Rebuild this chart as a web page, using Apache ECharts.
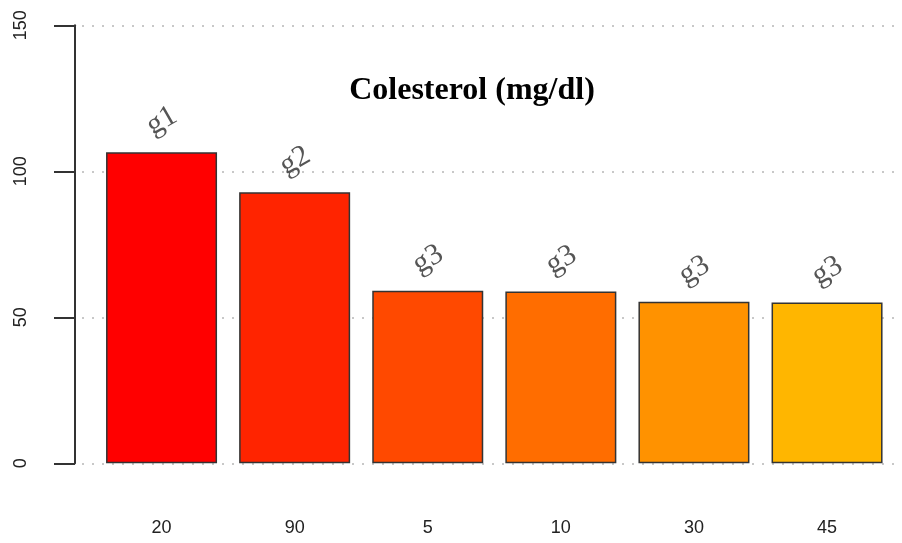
<!DOCTYPE html>
<html>
<head>
<meta charset="utf-8">
<script src="https://cdn.jsdelivr.net/npm/echarts@6/dist/echarts.min.js"></script>
<style>html,body{margin:0;padding:0;background:#fff}#c{width:902px;height:543px}</style>
</head>
<body>
<div id="c"></div>
<script>
const categories = ['20', '90', '5', '10', '30', '45'];
const values = [106.5, 92.8, 59.1, 58.8, 55.3, 55.1];
const groupLabels = ['g1', 'g2', 'g3', 'g3', 'g3', 'g3'];
const barColors = ['#FF0000', '#FF2400', '#FF4900', '#FF6D00', '#FF9200', '#FFB600'];
const yTicks = [0, 50, 100, 150];
const titleText = 'Colesterol (mg/dl)';

const chart = echarts.init(document.getElementById('c'), null, {renderer: 'canvas'});
chart.setOption({
  animation: false,
  backgroundColor: '#fff',
  title: {
    text: titleText,
    left: 467, top: 70, textAlign: 'center',
    textStyle: {fontFamily: 'Liberation Serif', fontWeight: 'bold', fontSize: 32, color: '#000'}
  },
  grid: [
    {left: 95, right: 8.4, top: 25.3, bottom: 79.7},
    {left: 82, right: 0, top: 25.3, bottom: 79.7}
  ],
  xAxis: [
    {
      type: 'category', gridIndex: 0, data: categories,
      axisLine: {show: false}, axisTick: {show: false},
      axisLabel: {margin: 56, fontFamily: 'Liberation Sans', fontSize: 18, color: '#222'}
    },
    {type: 'category', gridIndex: 1, data: [''], show: false}
  ],
  yAxis: [
    {
      type: 'value', gridIndex: 0, min: 0, max: 150, interval: 50, offset: 20,
      axisLine: {show: true, lineStyle: {color: '#333', width: 2}},
      axisTick: {show: true, length: 21, lineStyle: {color: '#333', width: 2}},
      axisLabel: {rotate: 90, margin: 45, fontFamily: 'Liberation Sans', fontSize: 18, color: '#222',
        formatter: v => yTicks.includes(v) ? String(v) : ''},
      splitLine: {show: false}
    },
    {
      type: 'value', gridIndex: 1, min: 0, max: 150, interval: 50,
      axisLine: {show: false}, axisTick: {show: false}, axisLabel: {show: false},
      splitLine: {show: true, lineStyle: {color: '#c8c8c8', type: [2, 8], width: 2}}
    }
  ],
  series: [{
    type: 'bar', xAxisIndex: 0, yAxisIndex: 0,
    barWidth: 111,
    data: values.map((v, i) => ({
      value: v,
      itemStyle: {color: barColors[i], borderColor: '#333', borderWidth: 1.5},
      label: {formatter: groupLabels[i]}
    })),
    label: {
      show: true, position: 'top', rotate: 30, distance: 0, offset: [16, -27],
      align: 'center', verticalAlign: 'middle',
      fontFamily: 'Liberation Serif', fontSize: 30, color: '#555'
    },
    z: 3
  }]
});
</script>
</body>
</html>
